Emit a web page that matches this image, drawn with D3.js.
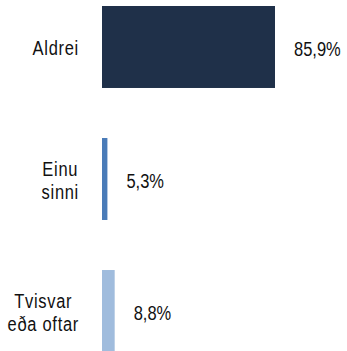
<!DOCTYPE html>
<html>
<head>
<meta charset="utf-8">
<script src="https://cdn.jsdelivr.net/npm/d3@7"></script>
<style>
  html, body { margin: 0; padding: 0; background: #fff; }
  svg { display: block; }
  text { font-family: "Liberation Sans", Arial, sans-serif; fill: #111; }
  text.cat { letter-spacing: 0.7px; }
</style>
</head>
<body>
<svg id="chart" width="347" height="351"></svg>
<script>
// Answer categories (each entry is a list of label lines)
const categories = [["Aldrei"], ["Einu", "sinni"], ["Tvisvar", "eða oftar"]];
// Share of respondents, percent
const values = [85.9, 5.3, 8.8];
const valueLabels = ["85,9%", "5,3%", "8,8%"];
const barColors = ["#1f3049", "#4a7bb8", "#a0bcdd"];

const width = 347, height = 351;
const barLeft = 102;
const labelRight = 79;
const fontSize = 16.5;
const stretch = 1.2;     // tall, narrow lettering
const lineH = 23.4;

const svg = d3.select("#chart");

const y = d3.scaleBand()
  .domain(d3.range(values.length))
  .range([6, 352])
  .paddingInner(0.379)
  .paddingOuter(0);

// value axis starts a little above zero, as in the source workbook
const x = d3.scaleLinear()
  .domain([2.7, 85.9])
  .range([0, 173]);

const rows = svg.selectAll("g.row")
  .data(values.map((v, i) => ({ v, i })))
  .join("g")
  .attr("class", "row");

rows.append("rect")
  .attr("x", barLeft)
  .attr("y", d => y(d.i))
  .attr("width", d => x(d.v))
  .attr("height", y.bandwidth())
  .attr("fill", d => barColors[d.i]);

// value labels to the right of each bar
rows.append("text")
  .attr("transform", d =>
    `translate(${barLeft + x(d.v) + 19},${y(d.i) + y.bandwidth() / 2 + 2}) scale(1,${stretch})`)
  .attr("dy", "0.35em")
  .attr("font-size", fontSize)
  .text(d => valueLabels[d.i]);

// category labels: lines centred on each other, block right-aligned
rows.each(function(d) {
  const g = d3.select(this);
  const lines = categories[d.i];
  const cy = y(d.i) + y.bandwidth() / 2 + 1.5;
  const t = g.append("text")
    .attr("class", "cat")
    .attr("font-size", fontSize)
    .attr("text-anchor", "middle");
  const spans = t.selectAll("tspan").data(lines).join("tspan")
    .attr("y", (l, k) => (k - (lines.length - 1) / 2) * lineH / stretch)
    .attr("dy", "0.35em")
    .text(l => l);
  let maxW = 0;
  spans.each(function() { maxW = Math.max(maxW, this.getComputedTextLength()); });
  spans.attr("x", 0);
  t.attr("transform", `translate(${labelRight - maxW / 2},${cy}) scale(1,${stretch})`);
});
</script>
</body>
</html>
